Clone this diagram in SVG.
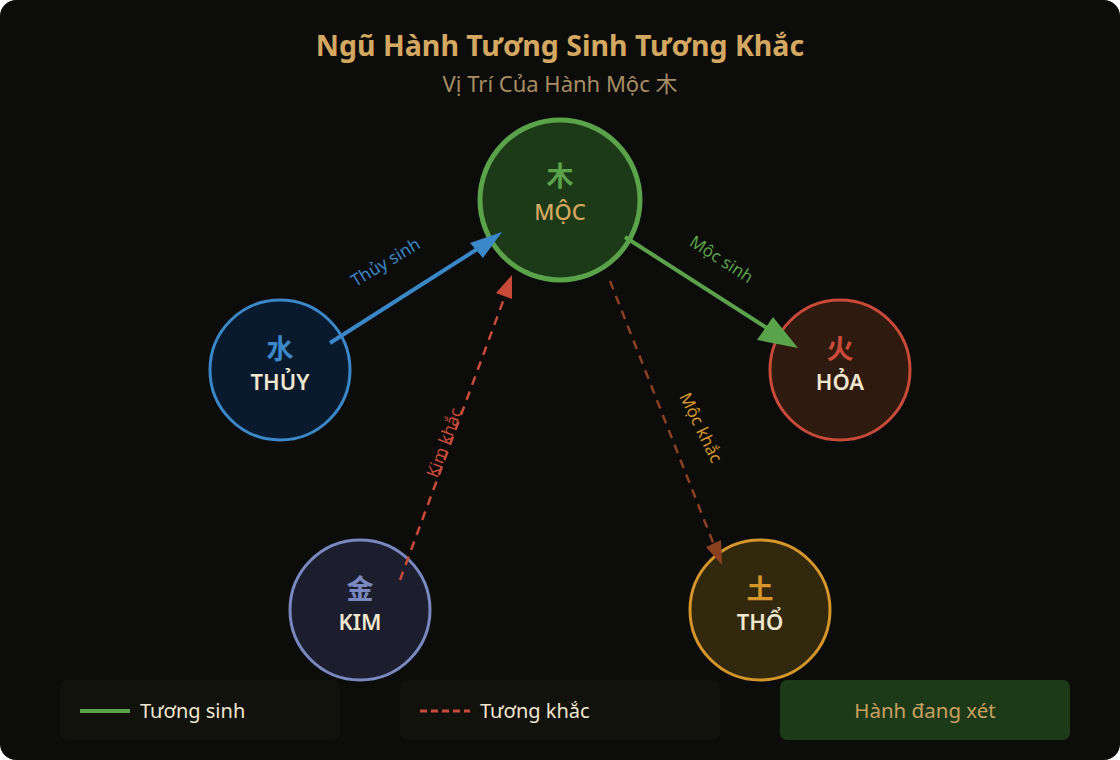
<svg xmlns="http://www.w3.org/2000/svg" width="1120" height="760" viewBox="0 0 1120 760">
<style>
text{font-family:"Noto Sans","Noto Sans CJK SC",sans-serif;text-anchor:middle}
.cjk{font-family:"Noto Sans CJK SC","Noto Sans",sans-serif;font-weight:700;font-size:27px}
.name{font-size:22px;font-weight:600;fill:#f0e6d0}
.lbl{font-size:17px}
.leg{font-size:20px;fill:#f0e6d0;text-anchor:start}
.sinh{stroke-width:4;fill:none}
.khac{stroke-width:2.5;fill:none;stroke-dasharray:9 7}
</style>
<rect x="0" y="0" width="1120" height="760" fill="#ffffff"/>
<rect x="0" y="0" width="1120" height="760" rx="16" fill="#0c0c0b"/>
<g id="title">
<text x="560" y="56" font-size="28.5" font-weight="700" fill="#d4a860">Ngũ Hành Tương Sinh Tương Khắc</text>
<text x="560" y="92" font-size="22" fill="#a88e62">Vị Trí Của Hành Mộc 木</text>
</g>
<g id="moc">
<circle cx="560" cy="200" r="80" fill="#1c3a18" stroke="#5aa34a" stroke-width="5"/>
<text class="cjk" x="560" y="186" fill="#5aa34a">木</text>
<text x="560" y="220" font-size="22" font-weight="500" fill="#d4a860">MỘC</text>
</g>
<g id="thuy">
<circle cx="280" cy="370" r="70" fill="#0a1a2e" stroke="#3a88c8" stroke-width="3"/>
<text class="cjk" x="280" y="359" fill="#3a88c8">水</text>
<text class="name" x="280" y="390">THỦY</text>
</g>
<g id="hoa">
<circle cx="840" cy="370" r="70" fill="#2e1a0e" stroke="#c84a38" stroke-width="3"/>
<text class="cjk" x="840" y="359" fill="#c84a38">火</text>
<text class="name" x="840" y="390">HỎA</text>
</g>
<g id="kim">
<circle cx="360" cy="610" r="70" fill="#1c1e2e" stroke="#7a88c0" stroke-width="3"/>
<text class="cjk" x="360" y="599" fill="#7a88c0">金</text>
<text class="name" x="360" y="630">KIM</text>
</g>
<g id="tho">
<circle cx="760" cy="610" r="70" fill="#32280e" stroke="#d4952a" stroke-width="3"/>
<text class="cjk" x="760" y="599" fill="#d4952a">土</text>
<text class="name" x="760" y="630">THỔ</text>
</g>
<g id="connectors">
<line class="sinh" x1="330" y1="343" x2="482" y2="246" stroke="#3a88c8"/>
<polygon points="502,232 470,243 483,258" fill="#3a88c8"/>
<text class="lbl" x="386" y="268" fill="#3a88c8" transform="rotate(-31 386 263)">Thủy sinh</text>
<line class="sinh" x1="625" y1="237" x2="770" y2="330" stroke="#5aa34a"/>
<polygon points="798,348 757,340 773,317" fill="#5aa34a"/>
<text class="lbl" x="721" y="265" fill="#5aa34a" transform="rotate(33 721 260)">Mộc sinh</text>
<line class="khac" x1="400" y1="580" x2="505" y2="296" stroke="#c84a38"/>
<polygon points="512,275 496,293 512,299" fill="#c84a38"/>
<text class="lbl" x="445" y="448" fill="#c84a38" transform="rotate(-70 445 443)">Kim khắc</text>
<line class="khac" x1="610" y1="281" x2="714" y2="545" stroke="#8b4020"/>
<polygon points="722,565 706,547 721,540" fill="#8b4020"/>
<text class="lbl" x="700" y="433" fill="#d4952a" transform="rotate(64 700 428)">Mộc khắc</text>
</g>
<g id="legend">
<rect x="60" y="680" width="280" height="60" rx="7" fill="#12120c"/>
<line x1="80" y1="711" x2="130" y2="711" stroke="#5aa34a" stroke-width="4"/>
<text class="leg" x="140" y="718">Tương sinh</text>
<rect x="400" y="680" width="320" height="60" rx="7" fill="#12120c"/>
<line x1="420" y1="711" x2="470" y2="711" stroke="#c84a38" stroke-width="3" stroke-dasharray="7 4"/>
<text class="leg" x="480" y="718">Tương khắc</text>
<rect x="780" y="680" width="290" height="60" rx="7" fill="#1c3a18"/>
<text x="925" y="718" font-size="20.5" fill="#c8a060">Hành đang xét</text>
</g>
</svg>
